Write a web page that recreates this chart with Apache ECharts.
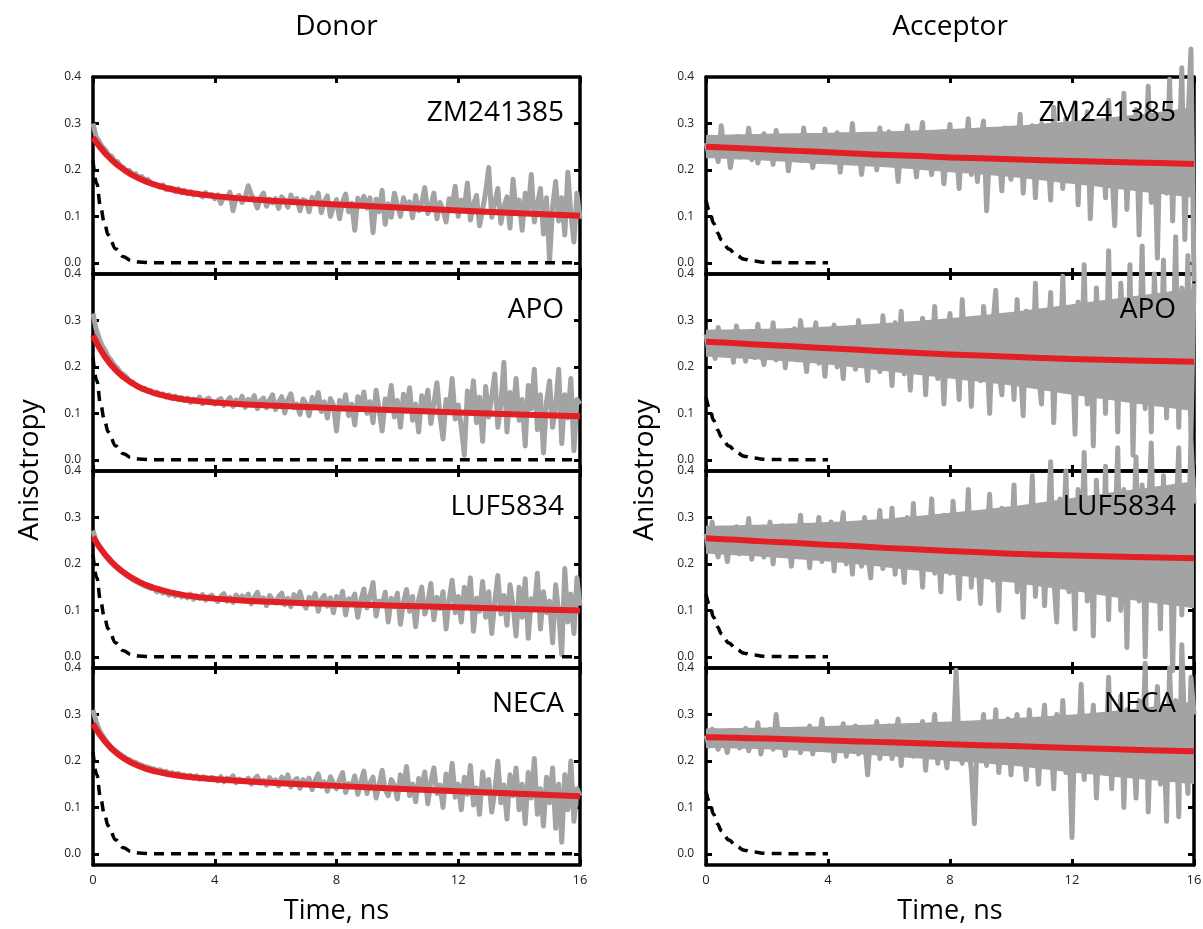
<!DOCTYPE html>
<html><head><meta charset="utf-8">
<script src="https://cdn.jsdelivr.net/npm/echarts@6/dist/echarts.min.js"></script>
<style>html,body{margin:0;padding:0;background:#fff}#c{width:1203px;height:929px}</style>
</head><body><div id="c"></div>
<script>
// ---- sample times (ns) ----
const TIME = [
0,0.1,0.2,0.3,0.4,0.5,0.6,0.7,0.8,0.9,
1,1.1,1.2,1.3,1.4,1.5,1.6,1.7,1.8,1.9,
2,2.1,2.2,2.3,2.4,2.5,2.6,2.7,2.8,2.9,
3,3.1,3.2,3.3,3.4,3.5,3.6,3.7,3.8,3.9,
4,4.1,4.2,4.3,4.4,4.5,4.6,4.7,4.8,4.9,
5,5.1,5.2,5.3,5.4,5.5,5.6,5.7,5.8,5.9,
6,6.1,6.2,6.3,6.4,6.5,6.6,6.7,6.8,6.9,
7,7.1,7.2,7.3,7.4,7.5,7.6,7.7,7.8,7.9,
8,8.1,8.2,8.3,8.4,8.5,8.6,8.7,8.8,8.9,
9,9.1,9.2,9.3,9.4,9.5,9.6,9.7,9.8,9.9,
10,10.1,10.2,10.3,10.4,10.5,10.6,10.7,10.8,10.9,
11,11.1,11.2,11.3,11.4,11.5,11.6,11.7,11.8,11.9,
12,12.1,12.2,12.3,12.4,12.5,12.6,12.7,12.8,12.9,
13,13.1,13.2,13.3,13.4,13.5,13.6,13.7,13.8,13.9,
14,14.1,14.2,14.3,14.4,14.5,14.6,14.7,14.8,14.9,
15,15.1,15.2,15.3,15.4,15.5,15.6,15.7,15.8,15.9,
16];
const FIT_TIME_DONOR = [0,0.2,0.4,0.6,0.8,1,1.25,1.5,1.75,2,2.5,3,3.5,4,5,6,7,8,10,12,14,16];
const FIT_TIME_ACC = [0,1,2,3,4,5,6,7,8,10,12,14,16];
const BAND_TIME = [0,2,4,6,8,10,12,14,16];
const IRF_TIME_DONOR = [0,0.125,0.25,0.375,0.5,0.75,1,1.25,1.5,2,4,8,12,16];
const IRF_TIME_ACC = [0,0.125,0.25,0.375,0.5,0.75,1,1.25,1.5,2,3,4];

const COLUMN_TITLES = ['Donor','Acceptor'];
const PANEL_LABELS = ['ZM241385','APO','LUF5834','NECA'];
const X_TICKS = [0,4,8,12,16];
const Y_LABELS = [0,0.1,0.2,0.3,0.4];
const Y_TICKS = [0,0.1,0.2,0.3];

// ---- measured anisotropy (grey traces), one row per ns ----
const donorZM = [
.300,.272,.262,.250,.244,.233,.230,.220,.218,.209,
.205,.198,.199,.190,.192,.184,.186,.178,.180,.172,
.170,.166,.163,.168,.158,.162,.160,.154,.159,.151,
.156,.149,.153,.146,.150,.148,.142,.151,.145,.147,
.138,.146,.128,.143,.139,.152,.112,.141,.145,.130,
.141,.166,.147,.136,.118,.140,.150,.122,.137,.129,
.138,.117,.142,.135,.120,.146,.130,.139,.112,.136,
.133,.110,.141,.129,.150,.108,.132,.144,.100,.121,
.136,.095,.131,.148,.110,.128,.070,.139,.125,.143,
.118,.140,.065,.137,.110,.156,.083,.127,.098,.150,
.125,.100,.140,.118,.131,.097,.145,.112,.128,.162,
.106,.122,.150,.095,.130,.114,.088,.138,.121,.165,
.100,.135,.118,.172,.092,.126,.145,.080,.115,.152,
.205,.098,.130,.160,.085,.121,.142,.075,.180,.110,
.135,.070,.150,.115,.190,.088,.125,.160,.062,.140,
.005,.120,.175,.090,.140,.060,.195,.105,.045,.150,
.095];
const donorAPO = [
.315,.282,.262,.246,.236,.222,.214,.204,.197,.188,
.184,.178,.170,.168,.160,.158,.152,.154,.147,.149,
.143,.146,.139,.142,.135,.140,.132,.137,.130,.134,
.128,.133,.124,.131,.127,.135,.121,.129,.133,.124,
.120,.128,.132,.117,.126,.134,.115,.129,.122,.137,
.113,.130,.125,.138,.110,.127,.133,.112,.129,.140,
.108,.124,.136,.101,.129,.142,.112,.120,.098,.131,
.121,.095,.134,.115,.145,.104,.125,.090,.132,.118,
.062,.128,.110,.140,.095,.120,.075,.136,.113,.146,
.100,.125,.080,.150,.108,.062,.131,.115,.160,.092,
.128,.070,.141,.105,.155,.085,.120,.060,.138,.110,
.150,.078,.122,.166,.095,.045,.130,.108,.175,.088,
.118,.070,.010,.148,.105,.170,.080,.135,.040,.158,
.092,.135,.185,.070,.120,.210,.060,.145,.100,.175,
.085,.130,.030,.160,.110,.195,.065,.140,.015,.125,
.170,.070,.115,.195,.035,.140,.090,.175,.020,.130,
.120];
const donorLUF = [
.272,.250,.238,.228,.219,.210,.203,.196,.191,.185,
.181,.175,.172,.166,.163,.159,.156,.152,.150,.147,
.148,.140,.144,.137,.141,.133,.138,.131,.136,.129,
.132,.127,.135,.124,.131,.126,.134,.122,.129,.133,
.125,.119,.130,.136,.120,.128,.117,.133,.124,.131,
.121,.135,.114,.128,.139,.118,.127,.110,.132,.124,
.116,.130,.137,.112,.126,.108,.134,.121,.140,.115,
.105,.128,.119,.136,.098,.124,.132,.109,.127,.095,
.130,.112,.141,.090,.125,.118,.135,.085,.122,.146,
.105,.131,.160,.088,.120,.112,.139,.075,.126,.108,
.137,.070,.118,.145,.098,.130,.065,.124,.150,.092,
.115,.158,.080,.128,.104,.140,.060,.122,.165,.095,
.130,.075,.150,.112,.170,.055,.126,.098,.162,.085,
.140,.050,.118,.175,.092,.132,.068,.155,.110,.045,
.150,.085,.168,.040,.125,.105,.180,.060,.140,.095,
.120,.030,.155,.095,.005,.190,.075,.135,.050,.170,
.110];
const donorNECA = [
.310,.285,.268,.256,.246,.237,.230,.224,.219,.214,
.210,.205,.203,.198,.197,.193,.191,.188,.187,.184,
.183,.179,.181,.176,.178,.173,.175,.171,.173,.169,
.170,.166,.169,.163,.168,.161,.166,.164,.160,.165,
.162,.157,.166,.155,.163,.159,.168,.153,.161,.158,
.156,.163,.150,.161,.167,.152,.158,.148,.164,.155,
.159,.146,.165,.153,.170,.144,.157,.162,.141,.160,
.150,.163,.138,.158,.172,.145,.155,.135,.166,.152,
.140,.160,.175,.132,.151,.145,.168,.128,.155,.178,
.130,.152,.165,.120,.147,.180,.138,.125,.160,.148,
.118,.170,.140,.188,.125,.150,.112,.162,.143,.176,
.108,.155,.185,.130,.148,.100,.172,.138,.195,.122,
.150,.095,.165,.128,.190,.105,.142,.085,.176,.130,
.160,.090,.135,.200,.110,.148,.075,.170,.125,.185,
.095,.150,.065,.175,.120,.205,.085,.140,.060,.165,
.110,.185,.055,.150,.025,.170,.095,.200,.070,.140,
.125];
const accZM = [
.258,.232,.270,.245,.218,.295,.240,.262,.205,.250,
.272,.228,.255,.238,.290,.222,.260,.215,.248,.278,
.235,.262,.212,.285,.240,.226,.268,.198,.255,.240,
.265,.220,.290,.232,.255,.205,.245,.272,.225,.288,
.218,.258,.236,.280,.195,.250,.268,.228,.300,.215,
.262,.190,.245,.275,.222,.258,.200,.290,.238,.212,
.282,.225,.250,.175,.268,.238,.295,.210,.248,.185,
.255,.302,.215,.240,.190,.278,.225,.262,.170,.245,
.298,.205,.255,.160,.282,.230,.310,.190,.250,.175,
.265,.305,.112,.240,.285,.200,.248,.155,.290,.218,
.180,.275,.230,.320,.150,.258,.205,.295,.140,.262,
.300,.185,.245,.135,.335,.210,.270,.160,.310,.195,
.240,.345,.125,.280,.190,.325,.095,.258,.305,.170,
.260,.140,.350,.210,.080,.300,.185,.365,.115,.280,
.175,.330,.060,.295,.220,.380,.130,.270,.010,.310,
.250,.150,.395,.090,.320,.200,.420,.050,.300,.460,
-.040];
const accAPO = [
.270,.232,.262,.218,.285,.240,.255,.225,.268,.210,
.288,.230,.252,.212,.275,.245,.220,.292,.238,.205,
.260,.228,.295,.215,.245,.270,.198,.262,.235,.282,
.215,.300,.242,.190,.268,.230,.295,.208,.255,.180,
.262,.222,.290,.200,.248,.175,.280,.235,.265,.195,
.300,.215,.245,.170,.285,.230,.258,.190,.310,.220,
.250,.160,.295,.225,.320,.185,.265,.150,.290,.240,
.200,.305,.140,.270,.225,.330,.175,.285,.120,.260,
.315,.190,.245,.130,.345,.210,.275,.115,.300,.235,
.170,.330,.250,.100,.285,.365,.195,.140,.310,.225,
.275,.130,.345,.205,.095,.320,.240,.160,.380,.185,
.120,.300,.230,.360,.080,.270,.200,.395,.150,.310,
.250,.055,.340,.180,.420,.120,.290,.030,.370,.210,
.300,.100,.450,.180,.330,.060,.380,.240,.130,.420,
.010,.310,.200,.460,.110,.350,.060,.400,.230,.140,
.430,.090,.330,.200,.480,.070,.370,.150,.440,.050,
.380];
const accLUF = [
.265,.228,.290,.240,.215,.272,.250,.205,.262,.235,
.280,.222,.258,.245,.298,.210,.262,.232,.275,.215,
.248,.290,.200,.265,.238,.282,.222,.270,.195,.258,
.240,.305,.218,.262,.192,.280,.245,.300,.205,.265,
.228,.290,.185,.270,.250,.310,.200,.262,.178,.285,
.240,.195,.300,.225,.170,.280,.245,.315,.190,.265,
.215,.320,.178,.270,.240,.160,.300,.210,.330,.195,
.268,.150,.290,.225,.340,.180,.255,.140,.305,.220,
.180,.335,.240,.125,.290,.210,.360,.150,.275,.230,
.115,.300,.245,.350,.165,.270,.100,.320,.200,.290,
.230,.370,.140,.300,.085,.280,.215,.390,.130,.260,
.320,.110,.250,.420,.170,.075,.340,.225,.400,.140,
.270,.060,.360,.190,.440,.120,.300,.045,.380,.215,
.150,.410,.080,.330,.250,.450,.100,.360,.020,.300,
.230,.430,.120,.370,.000,.300,.460,.170,.340,.060,
.390,.150,.330,-.030,.280,.450,.090,.360,.200,.470,
.330];
const accNECA = [
.255,.232,.268,.240,.225,.262,.245,.218,.258,.236,
.262,.228,.250,.270,.222,.245,.232,.282,.215,.255,
.240,.268,.225,.300,.235,.258,.212,.262,.245,.230,
.268,.218,.255,.240,.275,.215,.262,.232,.290,.225,
.245,.270,.200,.258,.238,.280,.210,.262,.230,.275,
.215,.265,.245,.170,.258,.230,.285,.205,.262,.240,
.275,.205,.252,.290,.190,.260,.235,.275,.210,.255,
.225,.285,.180,.262,.240,.300,.195,.268,.230,.185,
.260,.215,.395,.230,.195,.275,.240,.180,.065,.270,
.232,.300,.190,.255,.215,.310,.175,.260,.230,.290,
.170,.262,.300,.205,.240,.160,.310,.225,.275,.150,
.250,.320,.190,.265,.140,.300,.220,.330,.175,.255,
.035,.290,.200,.365,.160,.270,.230,.320,.120,.260,
.300,.180,.380,.140,.290,.220,.340,.100,.310,.200,
.260,.120,.330,.200,.410,.090,.300,.240,.360,.150,
.280,.070,.400,.200,.330,.080,.450,.250,.130,.380,
.300];

// ---- dense core of the acceptor traces (lower / upper edge of the solid grey) at BAND_TIME ----
const bandLowAccZM   = [.225,.220,.212,.205,.195,.185,.170,.155,.140];
const bandHighAccZM  = [.275,.278,.280,.283,.288,.295,.305,.318,.335];
const bandLowAccAPO  = [.222,.215,.205,.190,.175,.160,.140,.122,.105];
const bandHighAccAPO = [.280,.282,.287,.295,.305,.318,.335,.352,.370];
const bandLowAccLUF  = [.222,.215,.205,.192,.178,.160,.142,.122,.105];
const bandHighAccLUF = [.282,.285,.290,.298,.310,.324,.342,.360,.378];
const bandLowAccNECA = [.228,.225,.218,.210,.200,.190,.175,.162,.150];
const bandHighAccNECA= [.270,.272,.275,.280,.285,.292,.300,.312,.328];
const BAND_SPLIT = 0.25; // a level lying inside every acceptor band

// ---- fitted curves (red) ----
const fitDonorZM   = [.270,.2515,.2358,.2224,.2108,.2010,.1904,.1819,.1747,.1687,.1594,.1526,.1475,.1436,.1377,.1331,.1292,.1256,.1190,.1128,.1070,.1014];
const fitDonorAPO  = [.268,.2422,.2212,.2039,.1897,.1780,.1663,.1570,.1497,.1438,.1354,.1299,.1260,.1232,.1192,.1162,.1135,.1111,.1065,.1020,.0977,.0937];
const fitDonorLUF  = [.258,.2374,.2199,.2051,.1926,.1820,.1709,.1619,.1544,.1484,.1392,.1329,.1284,.1253,.1208,.1179,.1153,.1135,.1099,.1065,.1032,.0999];
const fitDonorNECA = [.280,.2586,.2412,.2270,.2154,.2060,.1965,.1890,.1830,.1783,.1714,.1666,.1631,.1605,.1562,.1527,.1494,.1463,.1403,.1346,.1291,.1238];
const fitAccZM     = [.250,.247,.244,.241,.238,.235,.232,.230,.227,.223,.219,.216,.213];
const fitAccAPO    = [.254,.251,.247,.244,.240,.237,.233,.230,.227,.222,.217,.214,.211];
const fitAccLUF    = [.255,.252,.248,.245,.241,.238,.234,.231,.228,.222,.218,.215,.212];
const fitAccNECA   = [.251,.250,.248,.246,.244,.242,.240,.238,.236,.232,.228,.224,.221];

// ---- instrument response (dashed) ----
const irfDonor = [.22,.17,.12,.085,.06,.03,.013,.005,.002,0,0,0,0,0];
const irfAcc   = [.135,.11,.085,.065,.05,.03,.016,.008,.004,.001,0,0];

const DATA = [donorZM, donorAPO, donorLUF, donorNECA, accZM, accAPO, accLUF, accNECA];
const FITS = [fitDonorZM, fitDonorAPO, fitDonorLUF, fitDonorNECA, fitAccZM, fitAccAPO, fitAccLUF, fitAccNECA];
const BANDS = [null, null, null, null,
  [bandLowAccZM, bandHighAccZM], [bandLowAccAPO, bandHighAccAPO],
  [bandLowAccLUF, bandHighAccLUF], [bandLowAccNECA, bandHighAccNECA]];

const FONT = 'Open Sans';
const GREY = '#a3a3a3';
const zip = (xs, ys) => xs.map((x, i) => [x, ys[i]]);

const grid = [], xAxis = [], yAxis = [], series = [], graphic = [];
const LEFTS = [93, 706], WIDTHS = [487, 488];
const TOP0 = 77, PH = 197;
const axisLineStyle = { color: '#000', width: 3.5 };
const tickStyle = { color: '#000', width: 3 };

for (let c = 0; c < 2; c++) {
  for (let r = 0; r < 4; r++) {
    const g = c * 4 + r;
    const top = TOP0 + r * PH;
    grid.push({ left: LEFTS[c], top: top, width: WIDTHS[c], height: PH, outerBoundsMode: 'none' });
    const isBottom = r === 3;
    const xBase = {
      type: 'value', gridIndex: g, min: 0, max: 16, interval: 4,
      axisLine: { onZero: false, lineStyle: axisLineStyle },
      axisTick: { inside: true, length: 6, lineStyle: tickStyle, customValues: X_TICKS },
      splitLine: { show: false }
    };
    xAxis.push(Object.assign({}, xBase, {
      position: 'bottom',
      axisLabel: { show: isBottom, color: '#222', fontSize: 13, fontFamily: FONT, margin: 9,
        customValues: X_TICKS },
      name: isBottom ? 'Time, ns' : '', nameLocation: 'middle', nameGap: 33,
      nameTextStyle: { color: '#000', fontSize: 27, fontFamily: FONT }
    }));
    xAxis.push(Object.assign({}, xBase, { position: 'top', axisLabel: { show: false } }));
    const yBase = {
      type: 'value', gridIndex: g, min: -0.024, max: 0.4,
      axisLine: { onZero: false, lineStyle: axisLineStyle },
      splitLine: { show: false }
    };
    yAxis.push(Object.assign({}, yBase, {
      position: 'left',
      axisTick: { inside: true, length: 6, lineStyle: tickStyle, customValues: Y_TICKS },
      axisLabel: { color: '#222', fontSize: 12, fontFamily: FONT, margin: 12,
        customValues: Y_LABELS, formatter: v => v.toFixed(1) }
    }));
    yAxis.push(Object.assign({}, yBase, {
      position: 'right',
      axisTick: { inside: true, length: 6, lineStyle: tickStyle, customValues: Y_TICKS },
      axisLabel: { show: false }
    }));
    const xi = g * 2, yi = g * 2;
    if (BANDS[g]) {
      const [lo, hi] = BANDS[g];
      series.push({
        type: 'line', xAxisIndex: xi, yAxisIndex: yi,
        data: zip(BAND_TIME, hi), showSymbol: false, silent: true, z: 1, smooth: 0.3,
        lineStyle: { width: 0, opacity: 0 },
        areaStyle: { color: GREY, opacity: 1, origin: BAND_SPLIT - 0.006 }
      });
      series.push({
        type: 'line', xAxisIndex: xi, yAxisIndex: yi,
        data: zip(BAND_TIME, lo), showSymbol: false, silent: true, z: 1, smooth: 0.3,
        lineStyle: { width: 0, opacity: 0 },
        areaStyle: { color: GREY, opacity: 1, origin: BAND_SPLIT + 0.006 }
      });
    }
    series.push({
      type: 'line', xAxisIndex: xi, yAxisIndex: yi, data: zip(TIME, DATA[g]),
      showSymbol: false, clip: false, z: 2, silent: true,
      lineStyle: { color: GREY, width: 5, join: 'round' }
    });
    series.push({
      type: 'line', xAxisIndex: xi, yAxisIndex: yi,
      data: zip(c === 0 ? FIT_TIME_DONOR : FIT_TIME_ACC, FITS[g]),
      showSymbol: false, smooth: c === 0 ? false : 0.3, z: 3, silent: true,
      lineStyle: { color: '#e31e24', width: 6, join: 'round' }
    });
    series.push({
      type: 'line', xAxisIndex: xi, yAxisIndex: yi,
      data: c === 0 ? zip(IRF_TIME_DONOR, irfDonor) : zip(IRF_TIME_ACC, irfAcc),
      showSymbol: false, smooth: 0.4, smoothMonotone: 'x', z: 4, silent: true,
      lineStyle: { color: '#000', width: 3.5, type: [10, 7] }
    });
    graphic.push({
      type: 'text', z: 10,
      style: { text: PANEL_LABELS[r], x: c === 0 ? 564 : 1176, y: top + 36,
        textAlign: 'right', textVerticalAlign: 'middle', fill: '#000',
        font: '28px "' + FONT + '"' }
    });
  }
  graphic.push({
    type: 'text',
    style: { text: COLUMN_TITLES[c], x: LEFTS[c] + WIDTHS[c] / 2, y: 27,
      textAlign: 'center', textVerticalAlign: 'middle', fill: '#000', font: '28px "' + FONT + '"' }
  });
  graphic.push({
    type: 'text', rotation: Math.PI / 2, x: c === 0 ? 30 : 645, y: 470,
    style: { text: 'Anisotropy', x: 0, y: 0,
      textAlign: 'center', textVerticalAlign: 'middle', fill: '#000', font: '28px "' + FONT + '"' }
  });
}

const chart = echarts.init(document.getElementById('c'), null, { renderer: 'canvas' });
chart.setOption({ animation: false, backgroundColor: '#fff', grid, xAxis, yAxis, series, graphic });
</script>
</body></html>
